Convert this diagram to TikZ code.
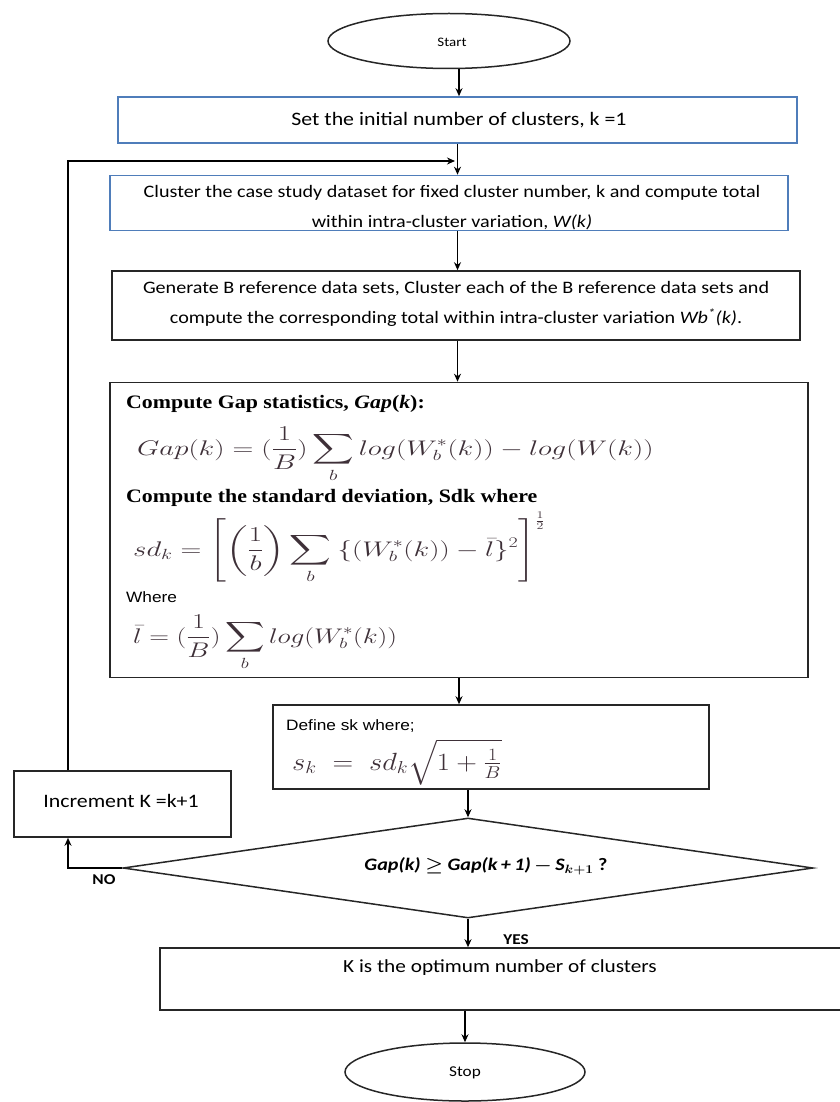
\documentclass[tikz,border=0pt]{standalone}
\usepackage{amsmath}
\usepackage{fontspec}
\setmainfont{Carlito}
\newfontfamily\timesf{Liberation Serif}
\newfontfamily\arialf{Liberation Sans}
\usetikzlibrary{shapes.geometric,arrows.meta,calc}
\definecolor{boxblue}{RGB}{79,125,186}
\definecolor{formcol}{RGB}{62,48,56}
\newcommand{\hstr}[1]{\scalebox{1.15}[1]{#1}}
\newcommand{\fstr}[2][1.1]{\scalebox{#1}[0.85]{#2}}
\begin{document}
\begin{tikzpicture}[x=1pt,y=-1pt,
  bluebox/.style={draw=boxblue, line width=1.6pt, rectangle, inner sep=0pt},
  blackbox/.style={draw=black!85, line width=1.6pt, rectangle, inner sep=0pt},
  term/.style={draw=black!85, ellipse, line width=1.5pt, inner sep=0pt},
  decision/.style={draw=black!85, diamond, line width=1.5pt, inner sep=0pt, aspect=6.9},
  arr/.style={-{Stealth[length=8pt,width=7pt]}, line width=1.5pt},
  txt/.style={font=\fontsize{17.5}{21}\selectfont, inner sep=0pt},
  lbl/.style={font=\fontsize{15}{17}\selectfont\bfseries, inner sep=0pt},
  boldserif/.style={font=\timesf\bfseries\fontsize{19}{22}\selectfont, inner sep=0pt, anchor=base west},
  smallsans/.style={font=\arialf\fontsize{15}{17}\selectfont, inner sep=0pt, anchor=base west},
  formula/.style={font=\fontsize{24}{28}\selectfont, text=formcol, inner sep=0pt, anchor=base west},
]
\useasboundingbox (0,0) rectangle (839,1102);

% terminals
\node[term, minimum width=242pt, minimum height=55pt] (start) at (449,41) {};
\node[txt, font=\fontsize{13}{15}\selectfont] (starttxt) at (452,42) {\hstr{Start}};

% box 1
\node[bluebox, minimum width=679pt, minimum height=46pt] (b1) at (457.5,120) {};
\node[txt, font=\fontsize{19}{22}\selectfont] (b1txt) at (459,120) {\hstr{Set the initial number of clusters, k =1}};

% box 2
\node[bluebox, minimum width=678pt, minimum height=55pt] (b2) at (449,203) {};
\node[txt] (b2txt1) at (452,193) {\hstr{Cluster the case study dataset for fixed cluster number, k and compute total}};
\node[txt] (b2txt2) at (452,222) {\hstr{within intra-cluster variation, \textit{W(k)}}};

% box 3
\node[blackbox, minimum width=688pt, minimum height=69pt] (b3) at (456,305.5) {};
\node[txt] (b3txt1) at (456,289) {\hstr{Generate B reference data sets, Cluster each of the B reference data sets and}};
\node[txt] (b3txt2) at (456,318) {\hstr{compute the corresponding total within intra-cluster variation \textit{Wb\textsuperscript{*}(k)}.}};

% box 4
\node[blackbox, minimum width=698pt, minimum height=295pt] (b4) at (459,530) {};
\node[boldserif] (g1) at (126,408) {\hstr{Compute Gap statistics, \textit{Gap}(\textit{k}):}};
\node[formula] (g2) at (137,455) {\fstr[1.16]{$\displaystyle Gap(k) = (\frac{1}{B})\sum_{b} log(W_b^{*}(k)) - log(W(k))$}};
\node[boldserif] (g3) at (126,502) {\hstr{Compute the standard deviation, Sdk where}};
\node[formula] (g4) at (133,556) {\fstr[1.16]{$\displaystyle sd_k = \Bigg[\bigg(\frac{1}{b}\bigg)\sum_{b}\ \{(W_b^{*}(k)) - \bar{l}\}^2\Bigg]^{\frac{1}{2}}$}};
\node[smallsans] (g5) at (126,602) {\hstr{Where}};
\node[formula] (g6) at (133,643) {\fstr{$\displaystyle \bar{l} = (\frac{1}{B})\sum_{b} log(W_b^{*}(k))$}};

% box 5
\node[blackbox, minimum width=436pt, minimum height=84pt] (b5) at (491,747) {};
\node[smallsans] (d1) at (286,730) {\hstr{Define  sk where;}};
\node[formula, font=\fontsize{23}{27}\selectfont] (d2) at (292,770) {\hstr{$s_k \;=\; sd_k\sqrt{1+\frac{1}{B}}$}};

% increment
\node[blackbox, minimum width=217pt, minimum height=66pt] (inc) at (122.5,804) {};
\node[txt, font=\fontsize{19}{22}\selectfont] (inctxt) at (121,801) {\hstr{Increment K =k+1}};

% decision
\node[decision, minimum width=690pt, minimum height=100pt] (dia) at (468,868) {};
\node[txt, font=\fontsize{17.5}{20}\selectfont\bfseries\itshape] (diatxt) at (486,866) {\hstr{Gap(k) $\boldsymbol{\geq}$ Gap(k\,+\,1)\,$\boldsymbol{-}$\,S$_{\boldsymbol{k+1}}$\upshape\ ?}};

% result
\node[blackbox, minimum width=685pt, minimum height=62pt] (b6) at (502.5,979) {};
\node[txt, font=\fontsize{18.5}{21}\selectfont] (b6txt) at (500,968) {\hstr{K is the optimum number of clusters}};

\node[term, minimum width=240pt, minimum height=58pt] (stop) at (465,1072) {};
\node[txt, font=\fontsize{15}{17}\selectfont] (stoptxt) at (465,1073) {\hstr{Stop}};

% labels
\node[lbl] (no) at (104,880) {\hstr{NO}};
\node[lbl] (yes) at (516,940) {\hstr{YES}};

% loop coordinates
\coordinate (lp) at (68,161);
\coordinate (lpend) at (455,161);

% connectors
\draw[arr] (start.south -| b1txt) -- (b1txt |- b1.north);
\draw[arr] (b1.south) -- (b1.south |- b2.north);
\draw[arr] (b2.south -| b1.south) -- (b1.south |- b3.north);
\draw[arr] (b3.south -| b1.south) -- (b1.south |- b4.north);
\draw[arr] (b4.south) -- (b4.south |- b5.north);
\draw[arr] (b5.south -| dia.north) -- (dia.north);
\draw[arr] (dia.south) -- (dia.south |- b6.north);
\draw[arr] (b6.south -| stop.north) -- (stop.north);
\draw[arr] (dia.west) -- (dia.west -| lp) -- (lp |- inc.south);
\draw[arr] (inc.north -| lp) -- (lp) -- (lpend);
\end{tikzpicture}
\end{document}
